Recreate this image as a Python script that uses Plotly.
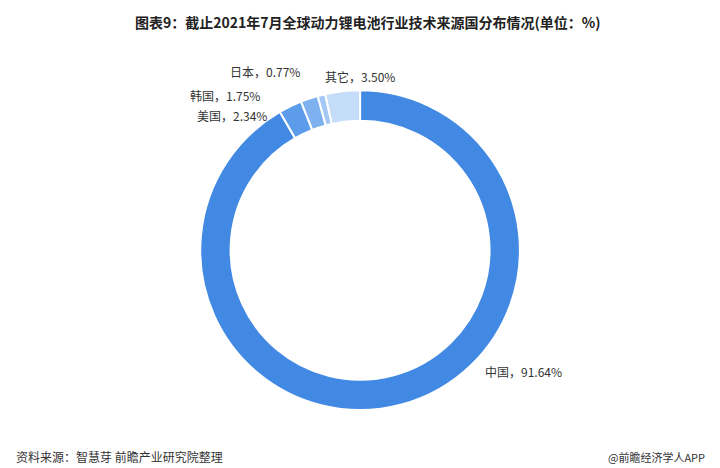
import plotly.graph_objects as go

countries = ["中国", "美国", "韩国", "日本", "其它"]
shares = [91.64, 2.34, 1.75, 0.77, 3.50]
colors = ["#4289e3", "#5c9ceb", "#7db1f0", "#a3c8f5", "#c6ddfa"]

fig = go.Figure(go.Pie(
    labels=countries, values=shares, hole=0.81, sort=False, direction="clockwise",
    rotation=0, marker=dict(colors=colors, line=dict(color="white", width=2)),
    textinfo="none", hoverinfo="label+percent", showlegend=False,
    domain=dict(x=[0.249, 0.729], y=[0.141, 0.824])
))

label_pos = {"中国": (0.66, 0.20), "美国": (0.26, 0.793),
             "韩国": (0.25, 0.835), "日本": (0.305, 0.887),
             "其它": (0.437, 0.876)}
for c, v in zip(countries, shares):
    x, y = label_pos[c]
    fig.add_annotation(x=x, y=y, xref="paper", yref="paper", xanchor="left", showarrow=False,
                       text=f"{c}，{v:.2f}%", font=dict(size=12, color="#333333"))

fig.add_annotation(x=0.5, y=0.995, xref="paper", yref="paper", showarrow=False, yanchor="top",
                   text="<b>图表9：截止2021年7月全球动力锂电池行业技术来源国分布情况(单位：%)</b>",
                   font=dict(size=14, color="#222222"))
fig.add_annotation(x=0.008, y=0.02, xref="paper", yref="paper", xanchor="left", showarrow=False,
                   text="资料来源：智慧芽 前瞻产业研究院整理", font=dict(size=12, color="#333333"))
fig.add_annotation(x=0.83, y=0.02, xref="paper", yref="paper", xanchor="left", showarrow=False,
                   text="@前瞻经济学人APP", font=dict(size=11, color="#333333"))

fig.update_layout(width=720, height=468, margin=dict(l=0, r=0, t=0, b=0),
                  paper_bgcolor="white", plot_bgcolor="white",
                  font=dict(family="Noto Sans CJK SC"))
fig.write_html("out.html")
